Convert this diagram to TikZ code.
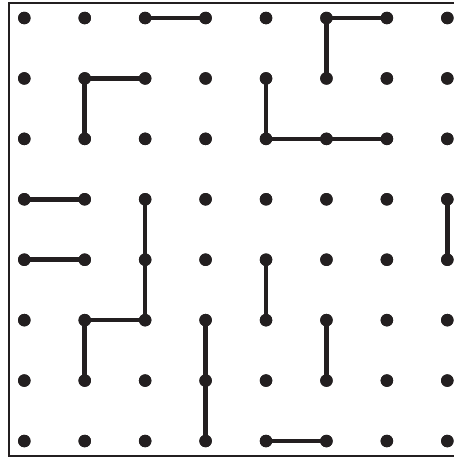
\documentclass[tikz,border=0pt]{standalone}
\begin{document}
\begin{tikzpicture}[x=1pt,y=-1pt,
  dotnode/.style={circle,fill=ink,inner sep=0pt,minimum size=12.5pt},
  seg/.style={draw=ink,line width=4.6pt},
  frame/.style={draw=ink,line width=2.2pt}]
\definecolor{ink}{HTML}{231F20}
\useasboundingbox (0,0) rectangle (454,459);
\draw[frame] (454,3) -- (9.3,3) -- (9.3,456) -- (454,456);
% dots
\foreach \i in {0,...,7}{
  \foreach \j in {0,...,7}{
    \node[dotnode] (d-\i-\j) at ({24.3+60.43*\i},{18+60.43*\j}) {};
  }
}
% segments
\begin{scope}[on background layer/.style={}]
\foreach \a/\b in {2-0/3-0, 5-0/6-0, 5-0/5-1,
  1-1/2-1, 1-1/1-2, 4-1/4-2, 4-2/6-2,
  0-3/1-3, 2-3/2-5, 7-3/7-4,
  0-4/1-4, 4-4/4-5,
  1-5/2-5, 1-5/1-6, 3-5/3-7, 5-5/5-6,
  4-7/5-7}{
  \draw[seg] (d-\a.center) -- (d-\b.center);
}
\end{scope}
% redraw dots on top
\foreach \i in {0,...,7}{
  \foreach \j in {0,...,7}{
    \fill[ink] (d-\i-\j.center) circle (6.25pt);
  }
}
\end{tikzpicture}
\end{document}
